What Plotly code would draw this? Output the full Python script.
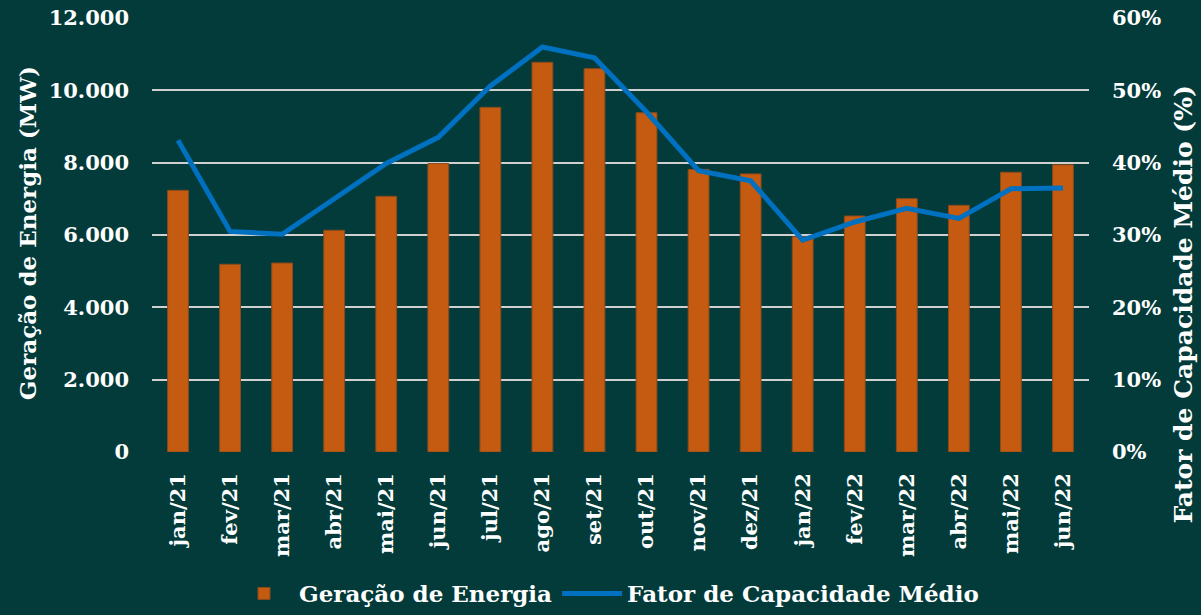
import plotly.graph_objects as go

months = ["jan/21", "fev/21", "mar/21", "abr/21", "mai/21", "jun/21", "jul/21", "ago/21",
          "set/21", "out/21", "nov/21", "dez/21", "jan/22", "fev/22", "mar/22", "abr/22",
          "mai/22", "jun/22"]
geracao_mw = [7235, 5190, 5225, 6130, 7070, 7975, 9530, 10775, 10600, 9380, 7815, 7690,
              5955, 6525, 7005, 6820, 7735, 7940]
fator_cap = [43.1, 30.5, 30.1, 34.9, 39.9, 43.5, 50.6, 56.0, 54.5, 47.0, 38.9, 37.5,
             29.3, 31.8, 33.7, 32.3, 36.4, 36.5]

y_ticks = [0, 2000, 4000, 6000, 8000, 10000, 12000]
y2_ticks = [0, 10, 20, 30, 40, 50, 60]
y2_labels = [f"{v}%" for v in y2_ticks]

BG = "#023b3a"
FONT = "DejaVu Serif"
TICKFONT = dict(family=FONT, size=21, color="white", weight="bold")

fig = go.Figure()
fig.add_trace(go.Bar(
    x=months, y=geracao_mw, name="Geração de Energia",
    marker=dict(color="#c55a11", line=dict(color="#8a4a1c", width=1)),
    width=0.4, yaxis="y",
))
fig.add_trace(go.Scatter(
    x=months, y=fator_cap, name="Fator de Capacidade Médio",
    mode="lines", line=dict(color="#0070c0", width=5),
    yaxis="y2",
))

fig.update_layout(
    width=1201, height=615,
    paper_bgcolor=BG, plot_bgcolor=BG,
    margin=dict(l=152, r=112, t=18, b=163, autoexpand=False),
    separators=",.",
    font=dict(family=FONT, color="white", size=19, weight="bold"),
    showlegend=True,
    legend=dict(orientation="h", x=0.505, xanchor="center", xref="container",
                y=-0.006, yanchor="bottom", yref="container",
                font=dict(family=FONT, size=23, color="white", weight="bold"),
                itemwidth=60, traceorder="normal", bgcolor="rgba(0,0,0,0)"),
    xaxis=dict(
        tickangle=-90, showgrid=False, ticks="", ticklabelstandoff=16,
        tickfont=TICKFONT, automargin=False,
        showline=False, zeroline=False,
    ),
    yaxis=dict(
        range=[0, 12000], tickvals=y_ticks, tickformat=",.0f",
        showgrid=True, gridcolor="#d0d0d0", gridwidth=2, zeroline=False,
        ticks="", ticklabelstandoff=22, automargin=False,
        tickfont=TICKFONT,
    ),
    yaxis2=dict(
        range=[0, 60], tickmode="array", tickvals=y2_ticks, ticktext=y2_labels,
        overlaying="y", side="right", automargin=False,
        showgrid=False, zeroline=False, ticks="", ticklabelstandoff=22,
        tickfont=TICKFONT,
    ),
    bargap=0.6,
)

fig.add_annotation(
    text="Geração de Energia (MW)", xref="paper", yref="paper",
    x=-0.132, y=0.505, xanchor="center", yanchor="middle", textangle=-90,
    showarrow=False, font=dict(family=FONT, size=23, color="white", weight="bold"),
)
fig.add_annotation(
    text="Fator de Capacidade Médio (%)", xref="paper", yref="paper",
    x=1.1005, y=0.34, xanchor="center", yanchor="middle", textangle=-90,
    showarrow=False, font=dict(family=FONT, size=25, color="white", weight="bold"),
)

fig.write_html("out.html", config={"displayModeBar": False},
               post_script="document.body.style.margin='0';document.body.style.overflow='hidden';")
